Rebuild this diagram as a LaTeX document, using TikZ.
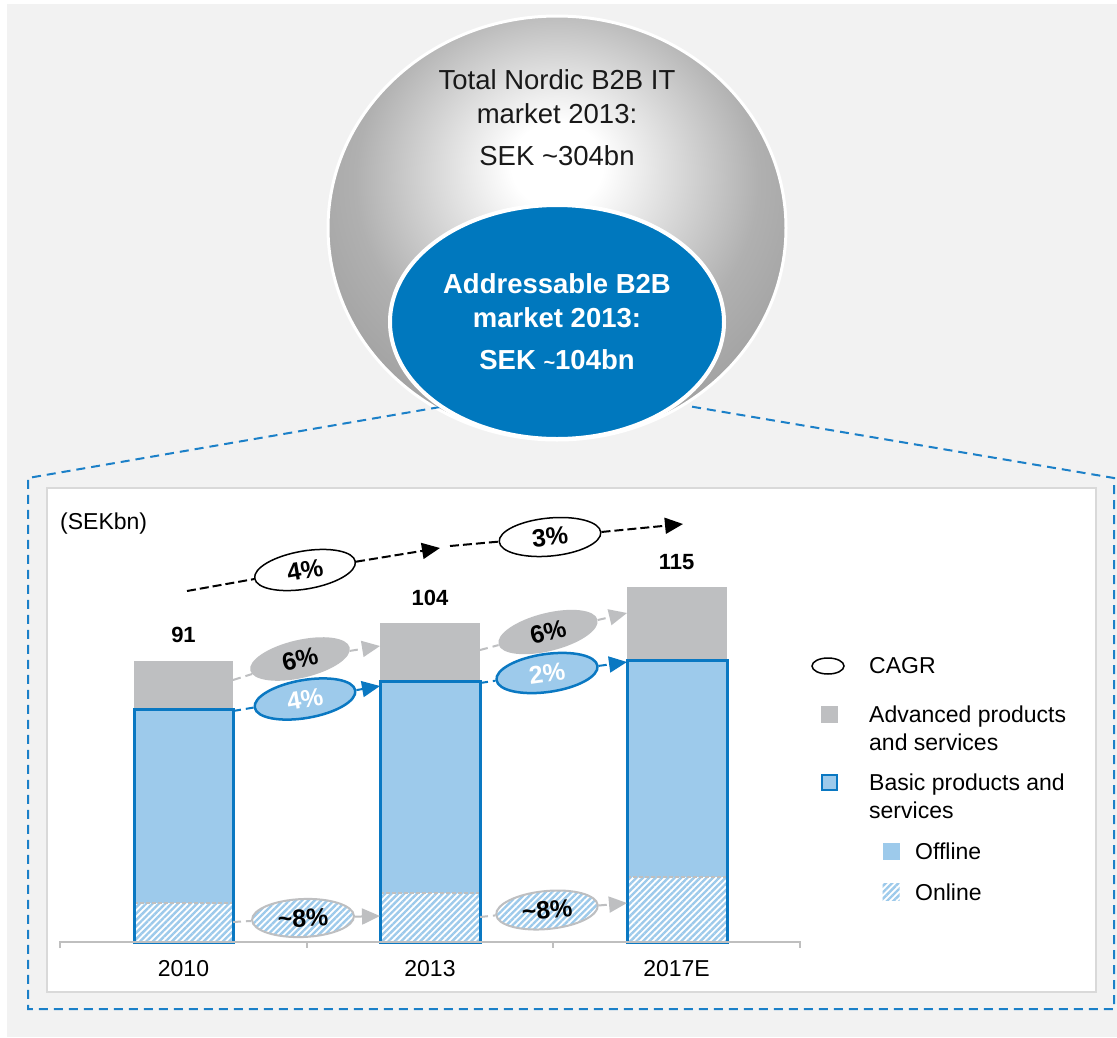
\documentclass[tikz,border=0pt]{standalone}
\usepackage{fontspec}
\setmainfont{Liberation Sans}
\usetikzlibrary{shapes.geometric,arrows.meta,patterns.meta}

\definecolor{bggray}{HTML}{F2F2F2}
\definecolor{panelgray}{HTML}{D9D9D9}
\definecolor{frameblue}{HTML}{1B80C8}
\definecolor{advgray}{HTML}{BEBFC1}
\definecolor{offblue}{HTML}{9DCAEB}
\definecolor{basicblue}{HTML}{0A78C2}
\definecolor{addrblue}{HTML}{0078BE}
\definecolor{axisgray}{HTML}{BFBFBF}
\definecolor{glowmid}{HTML}{B0B0B0}
\definecolor{glowedge}{HTML}{848484}

\pgfdeclareradialshading{totalglow}{\pgfpoint{0bp}{8bp}}{color(0bp)=(white); color(5bp)=(white); color(22bp)=(glowmid); color(45bp)=(glowedge); color(70bp)=(glowedge)}

\tikzset{
  cagrbase/.style={ellipse, minimum width=102pt, minimum height=38pt, inner sep=0pt, font=\fontsize{25}{25}\selectfont\bfseries},
  cagr/.style={cagrbase, draw=black, line width=1.5pt, fill=white},
  advcagr/.style={cagrbase, fill=advgray},
  basiccagr/.style={cagrbase, draw=basicblue, line width=2.5pt, fill=offblue, text=white},
  onlinefill/.style={pattern={Lines[angle=45,distance=4.5pt,line width=2.4pt]}, pattern color=offblue},
  onlinecagr/.style={cagrbase, draw=advgray, line width=2pt, onlinefill},
  cagrline/.style={draw=black, line width=2pt, dash pattern=on 9pt off 4pt},
  advline/.style={draw=advgray, line width=2pt, dash pattern=on 8pt off 5pt},
  basicline/.style={draw=basicblue, line width=2pt, dash pattern=on 8pt off 5pt},
  tip/.style={-{Triangle[length=18pt,width=16pt]}},
  basicbox/.style={draw=basicblue, line width=3pt},
  onlinetop/.style={draw=axisgray, line width=1.5pt, dash pattern=on 4pt off 2pt},
  labeltext/.style={font=\fontsize{23}{28}\selectfont, inner sep=0pt},
  valuetext/.style={font=\fontsize{22}{22}\selectfont\bfseries, inner sep=0pt},
  legendtext/.style={labeltext, anchor=west, align=left}
}

\begin{document}
\begin{tikzpicture}[x=1pt,y=-1pt]
\useasboundingbox (0,0) rectangle (1117,1037);
\fill[bggray] (7,4) rectangle (1117,1037);

\node[ellipse, shading=totalglow, draw=white, line width=3pt, minimum width=458pt, minimum height=424pt] (total) at (557,228) {};
\node[font=\fontsize{27.5}{34}\selectfont, align=center, text=black!90] (totaltxt) at (557,118) {Total Nordic B2B IT\\market 2013:\\[8pt]SEK \textasciitilde304bn};

\draw[frameblue, line width=2pt, dash pattern=on 9pt off 6pt] (440,407) -- (28,478) -- (28,1009) -- (1114,1009) -- (1114,478) -- (688,406);

\node[ellipse, fill=addrblue, draw=white, line width=4pt, minimum width=334pt, minimum height=234pt, text=white, align=center, font=\fontsize{27.5}{34}\selectfont\bfseries] (addr) at (557,322) {Addressable B2B\\market 2013:\\[8pt]SEK {\fontsize{20}{20}\selectfont\textasciitilde}104bn};

\draw[panelgray, line width=2pt, fill=white] (47,488) rectangle (1096,992);

\node[labeltext, anchor=west] (unit) at (60,524) {(SEKbn)};

\fill[advgray] (134,661) rectangle (233,709);
\fill[offblue] (134,709) rectangle (233,903);
\fill[onlinefill] (134,903) rectangle (233,942);
\draw[onlinetop] (134,903) -- (233,903);
\draw[basicbox] (134,709) rectangle (233,942);

\fill[advgray] (380,623) rectangle (480,681);
\fill[offblue] (380,681) rectangle (480,893);
\fill[onlinefill] (380,893) rectangle (480,942);
\draw[onlinetop] (380,893) -- (480,893);
\draw[basicbox] (380,681) rectangle (480,942);

\fill[advgray] (627,587) rectangle (727,660);
\fill[offblue] (627,660) rectangle (727,877);
\fill[onlinefill] (627,877) rectangle (727,942);
\draw[onlinetop] (627,877) -- (727,877);
\draw[basicbox] (627,660) rectangle (727,942);

\draw[axisgray, line width=2pt] (60,948) -- (60,942) -- (800,942) -- (800,948);
\draw[axisgray, line width=2pt] (307,942) -- (307,948);
\draw[axisgray, line width=2pt] (553,942) -- (553,948);

\node[labeltext] (y2010) at (183.5,969) {2010};
\node[labeltext] (y2013) at (430,969) {2013};
\node[labeltext] (y2017) at (676.5,969) {2017E};

\node[valuetext] (v2010) at (183.5,635) {91};
\node[valuetext] (v2013) at (430,598) {104};
\node[valuetext] (v2017) at (676.5,562) {115};

\coordinate (t0) at (187,591);
\coordinate (t1) at (440,548);
\coordinate (t2) at (450,546);
\coordinate (t3) at (683,524);
\node[cagr, rotate=9.6] (cagr1) at (305,570) {4\%};
\node[cagr, rotate=5.4] (cagr2) at (550,537) {3\%};
\draw[cagrline] (t0) -- (cagr1);
\draw[cagrline, tip] (cagr1) -- (t1);
\draw[cagrline] (t2) -- (cagr2);
\draw[cagrline, tip] (cagr2) -- (t3);

\coordinate (a0) at (233,680);
\coordinate (a1) at (380,646);
\coordinate (a2) at (480,650);
\coordinate (a3) at (627,613);
\node[advcagr, rotate=13] (adv1) at (300,659) {6\%};
\node[advcagr, rotate=14] (adv2) at (548,632) {6\%};
\draw[advline] (a0) -- (adv1);
\draw[advline, tip] (adv1) -- (a1);
\draw[advline] (a2) -- (adv2);
\draw[advline, tip] (adv2) -- (a3);

\coordinate (b0) at (233,711);
\coordinate (b1) at (380,686);
\coordinate (b2) at (480,683);
\coordinate (b3) at (627,662);
\node[basiccagr, rotate=9.7] (bas1) at (305,699) {4\%};
\node[basiccagr, rotate=8] (bas2) at (547,673) {2\%};
\draw[basicline] (b0) -- (bas1);
\draw[basicline, tip] (bas1) -- (b1);
\draw[basicline] (b2) -- (bas2);
\draw[basicline, tip] (bas2) -- (b3);

\coordinate (o0) at (233,922);
\coordinate (o1) at (380,916);
\coordinate (o2) at (480,917);
\coordinate (o3) at (627,903);
\node[onlinecagr, rotate=2.3] (onl1) at (303,918) {\textasciitilde8\%};
\node[onlinecagr, rotate=5.4] (onl2) at (547,910) {\textasciitilde8\%};
\draw[advline] (o0) -- (onl1);
\draw[advline, tip] (onl1) -- (o1);
\draw[advline] (o2) -- (onl2);
\draw[advline, tip] (onl2) -- (o3);

\node[ellipse, draw=black, line width=1.5pt, minimum width=32pt, minimum height=16pt, inner sep=0pt] (lgcagr) at (828,666) {};
\node[legendtext] (lgcagrtxt) at (869,666) {CAGR};
\node[fill=advgray, minimum size=17pt, inner sep=0pt] (lgadv) at (829,714) {};
\node[legendtext] (lgadvtxt) at (869,728) {Advanced products\\and services};
\node[fill=offblue, draw=basicblue, line width=2pt, minimum size=15pt, inner sep=0pt] (lgbasic) at (829,782) {};
\node[legendtext] (lgbasictxt) at (869,796) {Basic products and\\services};
\node[fill=offblue, minimum size=17pt, inner sep=0pt] (lgoff) at (891,851) {};
\node[legendtext] (lgofftxt) at (915,851) {Offline};
\node[onlinefill, minimum size=17pt, inner sep=0pt] (lgon) at (891,892) {};
\node[legendtext] (lgontxt) at (915,892) {Online};
\end{tikzpicture}
\end{document}
